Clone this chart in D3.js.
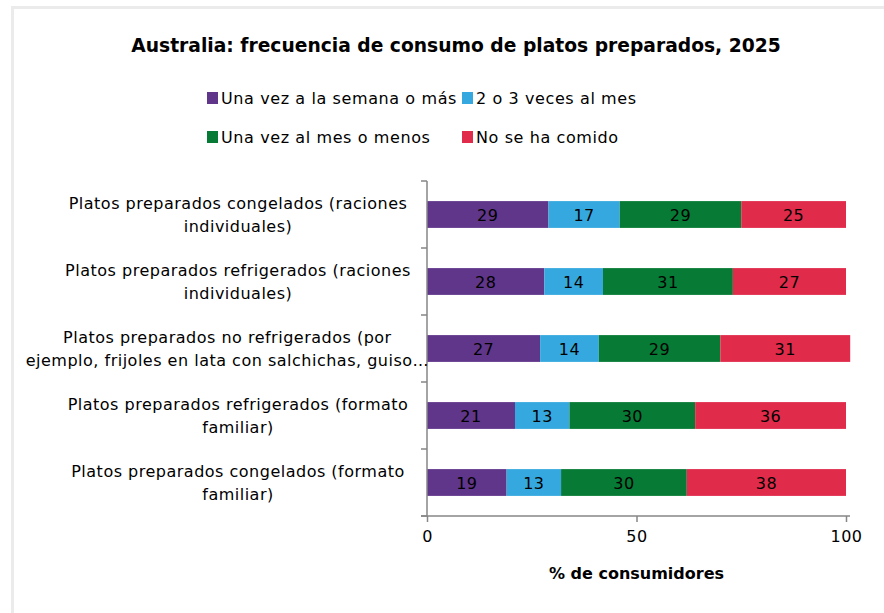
<!DOCTYPE html>
<html>
<head>
<meta charset="utf-8">
<script src="https://cdn.jsdelivr.net/npm/d3@7"></script>
<style>
  body { margin: 0; background: #fff; }
  text { font-family: "DejaVu Sans", sans-serif; }
</style>
</head>
<body>
<div id="chart"></div>
<script>
// data
var categories = [
  ["Platos preparados congelados (raciones", "individuales)"],
  ["Platos preparados refrigerados (raciones", "individuales)"],
  ["Platos preparados no refrigerados (por", "ejemplo, frijoles en lata con salchichas, guiso\u2026"],
  ["Platos preparados refrigerados (formato", "familiar)"],
  ["Platos preparados congelados (formato", "familiar)"]
];
var seriesNames = ["Una vez a la semana o más", "2 o 3 veces al mes", "Una vez al mes o menos", "No se ha comido"];
var semanal = [29, 28, 27, 21, 19];
var mensual = [17, 14, 14, 13, 13];
var menos = [29, 31, 29, 30, 30];
var nunca = [25, 27, 31, 36, 38];
var xTicks = [0, 50, 100];
var colors = ["#60368a", "#35a9df", "#077a35", "#e02b4b"];

var width = 884, height = 613;
var margin = { top: 181, left: 427, right: 38, bottom: 97 };

var svg = d3.select("#chart").append("svg")
  .attr("width", width)
  .attr("height", height);

// light frame (only top and left edges show)
svg.append("rect")
  .attr("x", 12.5).attr("y", 7.5)
  .attr("width", width + 20).attr("height", height + 20)
  .attr("fill", "#fff")
  .attr("stroke", "#ebebeb")
  .attr("stroke-width", 3);

var x = d3.scaleLinear().domain([0, 100]).range([margin.left, 846]);
var y = d3.scaleBand().domain(d3.range(categories.length))
  .range([margin.top, height - margin.bottom]).paddingInner(0.6).paddingOuter(0.3);

var rows = categories.map(function(c, i) {
  return { i: i, values: [semanal[i], mensual[i], menos[i], nunca[i]] };
});
var stack = d3.stack().keys([0, 1, 2, 3]).value(function(d, k) { return d.values[k]; });
var layers = stack(rows);

var g = svg.selectAll("g.layer").data(layers).enter().append("g")
  .attr("class", "layer")
  .attr("fill", function(d, k) { return colors[k]; });

g.selectAll("rect").data(function(d) { return d; }).enter().append("rect")
  .attr("x", function(d) { return x(d[0]); })
  .attr("y", function(d) { return y(d.data.i); })
  .attr("width", function(d) { return x(d[1]) - x(d[0]); })
  .attr("height", y.bandwidth());

g.selectAll("text").data(function(d) { return d; }).enter().append("text")
  .attr("x", function(d) { return (x(d[0]) + x(d[1])) / 2; })
  .attr("y", function(d) { return y(d.data.i) + y.bandwidth() / 2 + 6; })
  .attr("text-anchor", "middle")
  .attr("fill", "#000")
  .attr("font-size", 16)
  .attr("letter-spacing", 0.5)
  .text(function(d) { return d[1] - d[0]; });

// y axis (category ticks at band edges)
var axisColor = "#868686";
var yTop = margin.top, yBot = height - margin.bottom;
svg.append("line")
  .attr("x1", x(0)).attr("x2", x(0)).attr("y1", yTop).attr("y2", yBot)
  .attr("stroke", axisColor).attr("stroke-width", 1.5);
var step = (yBot - yTop) / categories.length;
svg.selectAll("line.ytick").data(d3.range(categories.length + 1)).enter().append("line")
  .attr("class", "ytick")
  .attr("x1", x(0) - 6).attr("x2", x(0))
  .attr("y1", function(d) { return yTop + d * step; })
  .attr("y2", function(d) { return yTop + d * step; })
  .attr("stroke", axisColor).attr("stroke-width", 1.5);

// x axis
var xAxis = svg.append("g")
  .attr("transform", "translate(0," + yBot + ")")
  .call(d3.axisBottom(x).tickValues(xTicks).tickSize(6).tickPadding(9));
xAxis.select(".domain").attr("stroke", axisColor).attr("stroke-width", 1.5)
  .attr("d", "M" + (x(0) - 6) + ",0H" + (x(100) + 4));
xAxis.selectAll(".tick line").attr("stroke", axisColor).attr("stroke-width", 1.5);
xAxis.selectAll(".tick text")
  .attr("font-family", "DejaVu Sans").attr("font-size", 16)
  .attr("letter-spacing", 0.5).attr("fill", "#000");

svg.append("text")
  .attr("x", x(50)).attr("y", 579)
  .attr("text-anchor", "middle")
  .attr("font-weight", "bold").attr("font-size", 16)
  .text("% de consumidores");

// category labels
var labelCenter = 238, labelRight = 429;
categories.forEach(function(lines, i) {
  var cy = y(i) + y.bandwidth() / 2;
  var texts = lines.map(function(line, j) {
    return svg.append("text")
      .attr("y", cy - 6 + j * 23)
      .attr("font-size", 16)
      .attr("letter-spacing", 0.5)
      .attr("fill", "#000")
      .attr("text-anchor", "middle")
      .text(line);
  });
  var maxW = d3.max(texts, function(t) { return t.node().getComputedTextLength(); });
  var c = Math.min(labelCenter, labelRight - maxW / 2);
  texts.forEach(function(t) { t.attr("x", c); });
});

// title
svg.append("text")
  .attr("x", 456).attr("y", 52)
  .attr("text-anchor", "middle")
  .attr("font-weight", "bold").attr("font-size", 18.7)
  .text("Australia: frecuencia de consumo de platos preparados, 2025");

// legend
var legendPos = [[207, 98], [462, 98], [207, 137], [462, 137]];
seriesNames.forEach(function(name, k) {
  var p = legendPos[k];
  svg.append("rect")
    .attr("x", p[0]).attr("y", p[1] - 6)
    .attr("width", 11).attr("height", 12)
    .attr("fill", colors[k]);
  svg.append("text")
    .attr("x", p[0] + 14).attr("y", p[1] + 6)
    .attr("font-size", 16)
    .attr("letter-spacing", 0.6)
    .text(name);
});
</script>
</body>
</html>
